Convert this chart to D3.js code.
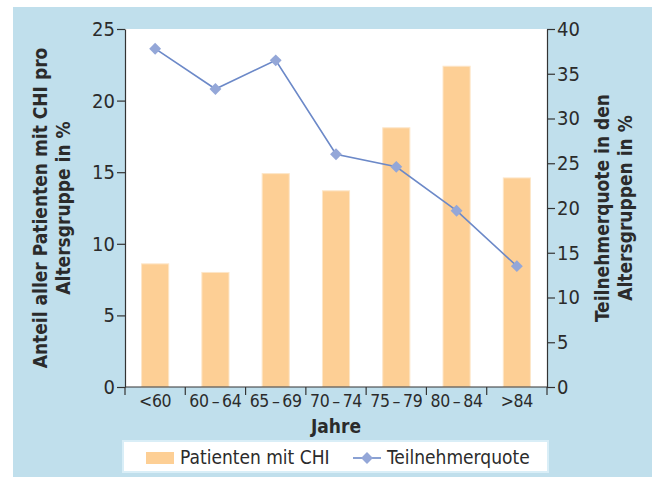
<!DOCTYPE html>
<html>
<head>
<meta charset="utf-8">
<script src="https://cdn.jsdelivr.net/npm/d3@7"></script>
<style>
  body { margin: 0; background: #fff; }
  svg text { font-family: "DejaVu Sans Condensed", "Liberation Sans Narrow", "Noto Sans", sans-serif; fill: #2b2b2b; }
  .axis path, .axis line { stroke: #333; stroke-width: 1.2; }
  .axis text { font-size: 20px; }
  .xaxis text { font-size: 17.5px; letter-spacing: -0.3px; }
  .title { font-weight: bold; font-size: 19px; }
  .legend text { font-size: 19px; }
</style>
</head>
<body>
<div id="chart"></div>
<script>
var categories = ["<60", "60\u2009\u2013\u200964", "65\u2009\u2013\u200969", "70\u2009\u2013\u200974", "75\u2009\u2013\u200979", "80\u2009\u2013\u200984", ">84"];
var patienten = [8.6, 8.0, 14.9, 13.7, 18.1, 22.4, 14.6];      // Anteil Patienten mit CHI, %
var quote = [37.8, 33.3, 36.5, 26.0, 24.6, 19.7, 13.5];        // Teilnehmerquote, %
var leftTicks = [0, 5, 10, 15, 20, 25];
var rightTicks = [0, 5, 10, 15, 20, 25, 30, 35, 40];

var W = 654, H = 477;
var margin = {top: 29, right: 107, bottom: 90, left: 125},
    width = W - margin.left - margin.right,
    height = H - margin.top - margin.bottom;

var svg = d3.select("#chart").append("svg").attr("width", W).attr("height", H);

// light blue panel
svg.append("rect").attr("x", 13).attr("y", 7).attr("width", 639).attr("height", 470).attr("fill", "#c0dfec");

var g = svg.append("g").attr("transform", "translate(" + margin.left + "," + margin.top + ")");
g.append("rect").attr("width", width).attr("height", height).attr("fill", "#fff");

var x = d3.scaleBand().domain(categories).range([0, width]).paddingInner(0.55).paddingOuter(0.275);
var xb = d3.scaleBand().domain(categories).range([0, width]);
var y = d3.scaleLinear().domain([0, 25]).range([height, 0]);
var y1 = d3.scaleLinear().domain([0, 40]).range([height, 0]);

// bars
g.selectAll(".bar").data(patienten).enter().append("rect")
    .attr("class", "bar")
    .attr("x", function(d, i) { return x(categories[i]); })
    .attr("width", x.bandwidth())
    .attr("y", function(d) { return y(d); })
    .attr("height", function(d) { return height - y(d); })
    .attr("fill", "#fdcf95").attr("stroke", "#fde6c8").attr("stroke-width", 1);

// line
var line = d3.line()
    .x(function(d, i) { return xb(categories[i]) + xb.bandwidth() / 2; })
    .y(function(d) { return y1(d); });
g.append("path").datum(quote).attr("d", line)
    .attr("fill", "none").attr("stroke", "#6c89c8").attr("stroke-width", 1.6);

var diamond = d3.symbol().type(d3.symbolDiamond2).size(90);
g.selectAll(".pt").data(quote).enter().append("path")
    .attr("class", "pt")
    .attr("d", diamond)
    .attr("transform", function(d, i) { return "translate(" + (xb(categories[i]) + xb.bandwidth() / 2) + "," + y1(d) + ")"; })
    .attr("fill", "#94a7d8");

// axes
var xAxis = g.append("g").attr("class", "axis xaxis").attr("transform", "translate(0," + height + ")")
    .call(d3.axisBottom(xb).tickSize(0).tickPadding(8));
xAxis.select(".domain").attr("d", "M0,0H" + width);
xAxis.selectAll(".bnd").data(d3.range(categories.length + 1)).enter().append("line")
    .attr("class", "bnd")
    .attr("x1", function(i) { return i * xb.step(); }).attr("x2", function(i) { return i * xb.step(); })
    .attr("y1", 0).attr("y2", 8).attr("stroke", "#333").attr("stroke-width", 1.2);
xAxis.selectAll("text").attr("dy", "0.71em");

var yAxis = g.append("g").attr("class", "axis")
    .call(d3.axisLeft(y).tickValues(leftTicks).tickSize(8).tickSizeOuter(0).tickPadding(2));
var yAxisR = g.append("g").attr("class", "axis").attr("transform", "translate(" + width + ",0)")
    .call(d3.axisRight(y1).tickValues(rightTicks).tickSize(8).tickSizeOuter(0).tickPadding(2));
g.selectAll(".axis .domain").attr("stroke", "#333");

// titles
svg.append("text").attr("class", "title").attr("text-anchor", "middle")
    .attr("transform", "translate(47," + (margin.top + height / 2) + ") rotate(-90)")
    .text("Anteil aller Patienten mit CHI pro");
svg.append("text").attr("class", "title").attr("text-anchor", "middle")
    .attr("transform", "translate(70," + (margin.top + height / 2) + ") rotate(-90)")
    .text("Altersgruppe in %");
svg.append("text").attr("class", "title").attr("text-anchor", "middle")
    .attr("transform", "translate(609," + (margin.top + height / 2) + ") rotate(-90)")
    .text("Teilnehmerquote in den");
svg.append("text").attr("class", "title").attr("text-anchor", "middle")
    .attr("transform", "translate(632," + (margin.top + height / 2) + ") rotate(-90)")
    .text("Altersgruppen in %");
svg.append("text").attr("class", "title").attr("text-anchor", "middle")
    .attr("x", margin.left + width / 2).attr("y", 433).text("Jahre");

// legend
var legend = svg.append("g").attr("class", "legend");
legend.append("rect").attr("x", 123).attr("y", 441).attr("width", 425).attr("height", 31)
    .attr("fill", "#fff").attr("stroke", "#d9eef7").attr("stroke-width", 2);
legend.append("rect").attr("x", 146).attr("y", 452).attr("width", 28).attr("height", 12)
    .attr("fill", "#fdcf95");
legend.append("text").attr("x", 180).attr("y", 463.5).text("Patienten mit CHI");
legend.append("line").attr("x1", 353).attr("x2", 381).attr("y1", 458).attr("y2", 458)
    .attr("stroke", "#6c89c8").attr("stroke-width", 1.6);
legend.append("path").attr("d", diamond).attr("transform", "translate(367,458)").attr("fill", "#94a7d8");
legend.append("text").attr("x", 387).attr("y", 463.5).text("Teilnehmerquote");
</script>
</body>
</html>
